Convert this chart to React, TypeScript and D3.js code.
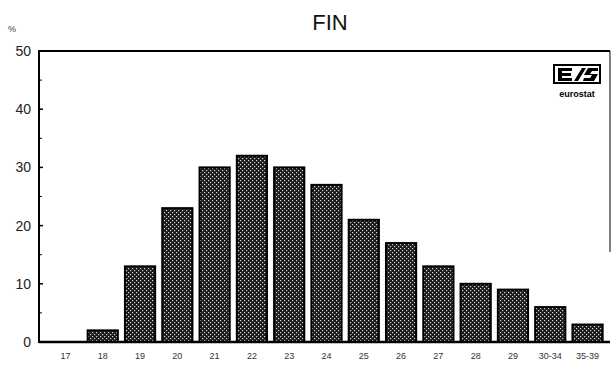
import React from "react";
import * as d3 from "d3";

const categories = ["17", "18", "19", "20", "21", "22", "23", "24", "25", "26", "27", "28", "29", "30-34", "35-39"];
const values = [0, 2, 13, 23, 30, 32, 30, 27, 21, 17, 13, 10, 9, 6, 3];
const yTicks = [0, 10, 20, 30, 40, 50];
const yMinorTicks = [5, 15, 25, 35, 45];

const W = 611;
const H = 365;
const plotLeft = 39;
const plotRight = 610;
const plotTop = 51;
const plotBottom = 342;

export default function App() {
  const x = d3.scaleBand<string>().domain(categories).range([47, 606]).paddingInner(0.19).paddingOuter(0.09);
  const y = d3.scaleLinear().domain([0, 50]).range([plotBottom, plotTop]);

  return (
    <svg width={W} height={H} style={{ position: "absolute", left: 0, top: 0, background: "#fff" }}>
      <defs>
        <pattern id="dots" width="4" height="4" patternUnits="userSpaceOnUse">
          <rect width="4" height="4" fill="#1a1a1a" />
          <rect x="0" y="0" width="1.2" height="1.2" fill="#d8d8d8" />
          <rect x="2" y="2" width="1.2" height="1.2" fill="#d8d8d8" />
        </pattern>
      </defs>

      <text x={330} y={30} textAnchor="middle" fontFamily="Liberation Sans, Arial, sans-serif" fontSize={22} fill="#111">FIN</text>
      <text x={8} y={32} fontFamily="Liberation Sans, Arial, sans-serif" fontSize={9} fill="#444">%</text>

      {/* frame */}
      <line x1={plotLeft} y1={plotTop} x2={plotRight} y2={plotTop} stroke="#000" strokeWidth={2} />
      <line x1={plotRight} y1={plotTop} x2={plotRight} y2={plotBottom - 90} stroke="#000" strokeWidth={1} />
      <line x1={plotLeft} y1={plotTop - 1} x2={plotLeft} y2={plotBottom + 1} stroke="#000" strokeWidth={2} />

      {yTicks.map((t) => (
        <g key={t}>
          <line x1={plotLeft} x2={plotLeft + 4} y1={y(t)} y2={y(t)} stroke="#000" strokeWidth={1.5} />
          <text x={31} y={y(t) + 5} textAnchor="end" fontFamily="Liberation Sans, Arial, sans-serif" fontSize={14} fill="#222">{t}</text>
        </g>
      ))}
      {yMinorTicks.map((t) => (
        <line key={t} x1={plotLeft} x2={plotLeft + 3} y1={y(t)} y2={y(t)} stroke="#000" strokeWidth={1} />
      ))}

      {categories.map((c, i) => {
        const v = values[i];
        const x0 = x(c)!;
        return (
          <g key={c}>
            {v > 0 && (
              <rect x={x0} y={y(v)} width={x.bandwidth()} height={plotBottom - y(v)} fill="url(#dots)" stroke="#000" strokeWidth={2} />
            )}
            <text x={x0 + x.bandwidth() / 2} y={359} textAnchor="middle" fontFamily="Liberation Sans, Arial, sans-serif" fontSize={9} fill="#333">{c}</text>
          </g>
        );
      })}

      <line x1={plotLeft} y1={plotBottom} x2={plotRight} y2={plotBottom} stroke="#000" strokeWidth={2.5} />

      {/* eurostat logo */}
      <g>
        <rect x={554} y={65} width={46} height={18} fill="#fff" stroke="#000" strokeWidth={2} />
        <path d="M558 68 H572 V71 H562 V73 H571 V76 H562 V78 H572 V81 H558 Z" fill="#000" />
        <path d="M574 81 L582 68 H586 L578 81 Z" fill="#000" />
        <path d="M598 68 H588 L584 75 H592 L590 78 H584 L583 81 H594 L598 74 H590 L592 71 H598 Z" fill="#000" />
        <text x={577} y={97} textAnchor="middle" fontFamily="Liberation Sans, Arial, sans-serif" fontWeight="bold" fontSize={9} fill="#000">eurostat</text>
      </g>
    </svg>
  );
}
